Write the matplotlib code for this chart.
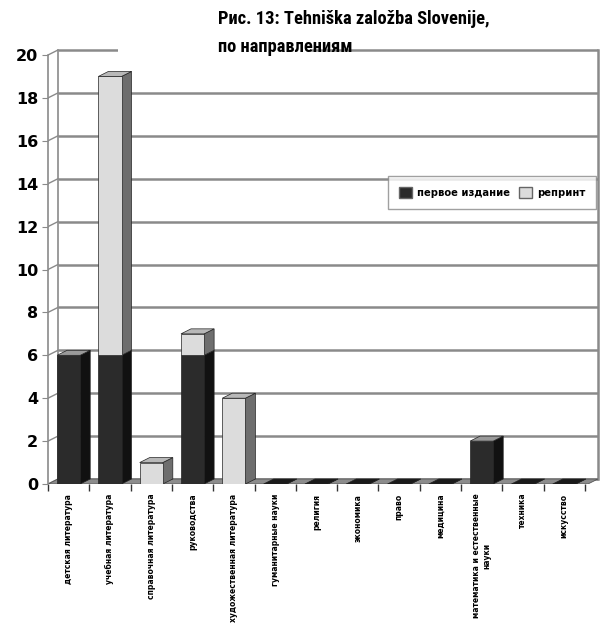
import numpy as np
import matplotlib
matplotlib.use("Agg")
import matplotlib.pyplot as plt
from matplotlib.patches import Polygon, Rectangle, Patch

plt.rcParams['font.family'] = ['Roboto Condensed', 'DejaVu Sans']
plt.rcParams['font.weight'] = 'bold'

# data
categories = ["детская литература", "учебная литература", "справочная литература",
              "руководства", "художественная литература", "гуманитарные науки",
              "религия", "экономика", "право", "медицина",
              "математика и естественные\nнауки", "техника", "искусство"]
first_ed = [6, 6, 0, 6, 0, 0, 0, 0, 0, 0, 2, 0, 0]
reprint = [0, 13, 1, 1, 4, 0, 0, 0, 0, 0, 0, 0, 0]
series_names = ["первое издание", "репринт"]
yticks = list(range(0, 21, 2))

W, H = 610, 625
fig = plt.figure(figsize=(W/100, H/100), dpi=100)
# axes in pixel coords: x from 48 to 600, y0 at 484, y20 at 55
ppu = (484-55)/20.0
top_px = 40
ax = fig.add_axes([48/W, 1-484/H, (600-48)/W, (484-top_px)/H])
n = len(categories)
ax.set_xlim(-0.5, -0.5 + (600-48)/41.3)
ax.set_ylim(0, (484-top_px)/ppu)

dx = 10/41.3
dy = 5/ppu
grid_c = '#8a8a8a'
xr = ax.get_xlim()[1] - 0.05

# back wall grid and left wall diagonals
for y in yticks:
    ax.plot([-0.5+dx, xr], [y+dy, y+dy], color=grid_c, lw=1.8, zorder=1, solid_capstyle='butt')
    ax.plot([-0.5, -0.5+dx], [y, y+dy], color=grid_c, lw=1.0, zorder=1)
ax.plot([-0.5+dx, -0.5+dx], [dy, 20+dy], color=grid_c, lw=1.2, zorder=1)
ax.plot([xr, xr], [dy, 20+dy], color=grid_c, lw=1.8, zorder=1)
# floor
ax.add_patch(Polygon([(-0.5, 0), (xr-dx, 0), (xr, dy), (-0.5+dx, dy)],
                     closed=True, facecolor='#8c8c8c', edgecolor='#555555', lw=0.6, zorder=2))

bw = 0.56
front_c = ['#2b2b2b', '#dcdcdc']
side_c = ['#111111', '#6e6e6e']
top_c = ['#9a9a9a', '#b8b8b8']

def bar3d(xc, y0, h, k, draw_top):
    x0, x1 = xc - bw/2, xc + bw/2
    ax.add_patch(Polygon([(x1, y0), (x1+dx, y0+dy), (x1+dx, y0+h+dy), (x1, y0+h)],
                         closed=True, facecolor=side_c[k], edgecolor='#222222', lw=0.5, zorder=3))
    ax.add_patch(Rectangle((x0, y0), bw, h, facecolor=front_c[k], edgecolor='#222222', lw=0.5, zorder=4))
    if draw_top:
        tc = top_c[k] if h > 0 else '#1a1a1a'
        ax.add_patch(Polygon([(x0, y0+h), (x1, y0+h), (x1+dx, y0+h+dy), (x0+dx, y0+h+dy)],
                             closed=True, facecolor=tc, edgecolor='#222222', lw=0.5, zorder=4))

for i in range(n):
    a, b = first_ed[i], reprint[i]
    if a > 0 or b == 0:
        bar3d(i, 0, a, 0, b == 0)
    if b > 0:
        bar3d(i, a, b, 1, True)

# axes styling
for s in ['top', 'right']:
    ax.spines[s].set_visible(False)
ax.spines['left'].set_color(grid_c)
ax.spines['left'].set_linewidth(1.2)
ax.spines['left'].set_bounds(0, 20)
ax.spines['bottom'].set_visible(False)
ax.set_yticks(yticks)
ax.set_yticklabels([str(v) for v in yticks], fontsize=11.5, fontweight='bold',
                   family='DejaVu Sans')
ax.tick_params(axis='y', length=4, color=grid_c, pad=3)
ax.set_xticks(np.arange(-0.5, n, 1.0))
ax.set_xticklabels([])
ax.tick_params(axis='x', length=5, width=1, color='#333333', direction='out', pad=0)
ax.set_xticks(np.arange(n), minor=True)
ax.set_xticklabels(categories, minor=True, rotation=90, fontsize=5.5,
                   fontweight='bold', va='top', ha='center', linespacing=1.1,
                   family='DejaVu Sans', multialignment='center')
ax.tick_params(axis='x', which='minor', length=0, pad=7)
ax.patch.set_alpha(0)

# legend
handles = [Patch(facecolor=front_c[0], edgecolor='#666666'),
           Patch(facecolor=front_c[1], edgecolor='#666666')]
leg = fig.legend(handles, series_names, loc='upper right', ncol=2,
                 bbox_to_anchor=(601/W, 1-171/H), frameon=True,
                 prop=dict(family='DejaVu Sans', weight='bold', size=7.2),
                 fancybox=False, edgecolor='#888888', borderpad=1.1,
                 handlelength=1.3, handleheight=1.3, columnspacing=0.9, handletextpad=0.5)
leg.get_frame().set_linewidth(1.0)
leg.set_zorder(10)

# white gap in the top gridline behind the title
fig.patches.append(Rectangle((118/W, 1-62/H), (310-118)/W, 30/H, transform=fig.transFigure,
                             facecolor='white', edgecolor='none', zorder=5))
fig.text(218/W, 1-10/H, "Рис. 13: Tehniška založba Slovenije,\nпо направлениям",
         fontsize=13.3, fontweight='bold', ha='left', va='top', linespacing=1.75, zorder=6)

fig.savefig("out.png", dpi=100)
